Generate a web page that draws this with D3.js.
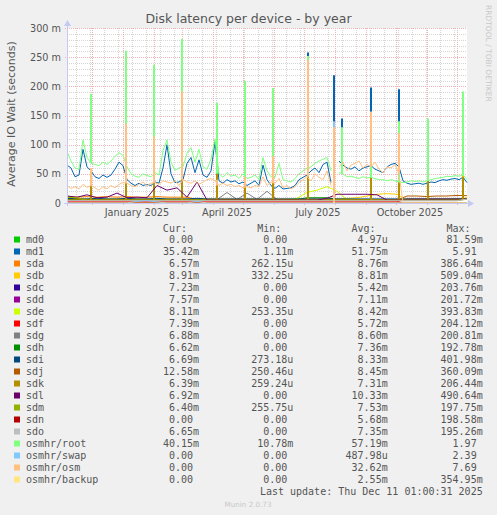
<!DOCTYPE html>
<html>
<head>
<meta charset="utf-8">
<script src="https://cdn.jsdelivr.net/npm/d3@7"></script>
<style>
  html, body { margin: 0; padding: 0; background: #f0f0f0; }
  svg { display: block; }
</style>
</head>
<body>
<div id="chart"></div>
<script>
// 資料 (單位: 毫秒 m)
const startDate = new Date(Date.UTC(2024, 10, 6, 1, 0, 0));
const endDate = new Date(Date.UTC(2025, 11, 11, 1, 0, 0));

// 主要序列每 4 天一點
const mainStep = 4;
const rootVals = [
  88, 72, 60, 58, 108, 78, 68, 66, 64, 70,
  66, 72, 80, 86, 82, 62, 50, 46, 44, 50,
  47, 45, 52, 48, 90, 108, 70, 56, 60, 62,
  85, 95, 70, 92, 62, 58, 75, 110, 50, 44,
  52, 46, 48, 42, 50, 42, 44, 48, 40, 78,
  55, 45, 44, 68, 40, 38, 36, 42, 50, 55,
  60, 62, 68, 72, 75, 78, 55, null, 52, 50,
  45, 46, 44, 42, 45, 43, 44, 42, 40, 40,
  38, 40, 38, 36, 35, 36, 38, 37, 38, 36,
  38, 40, 42, 43, 44, 46, 45, 47, 46, 48,
  40
];
const md1Vals = [
  65, 60, 45, 48, 92, 62, 55, 45, 42, 48,
  44, 48, 58, 70, 64, 40, 34, 30, 34, 30,
  32, 30, 36, 34, 60, 100, 50, 35, 36, 40,
  68, 78, 52, 74, 48, 44, 55, 105, 38, 34,
  40, 36, 38, 33, 36, 30, 34, 38, 30, 65,
  40, 30, 25, 30, 24, 25, 26, 30, 40, 44,
  48, 55, 60, 52, 66, 70, 35, null, 72, 65,
  60, 58, 62, 55, 60, 62, 64, 58, 55, 52,
  62, 66, 68, 62, 38, 34, 32, 33, 34, 32,
  34, 36, 35, 38, 40, 39, 41, 42, 40, 44,
  35
];
const osmVals = [
  30, 25, 28, 24, 32, 27, 30, 26, 22, 28,
  24, 30, 26, 32, 35, 34, 30, 28, 32, 36,
  30, 34, 35, 32, 38, 36, 34, 38, 30, 40,
  36, 34, 38, 32, 36, 40, 42, 38, 30, 34,
  30, 32, 28, 30, 26, 28, 26, 30, 28, 45,
  30, 36, 34, 42, 26, 30, 24, 28, 35, 40,
  45, 38, 50, 44, 40, 55, 30, null, 62, 70,
  55, 65, 68, 72, 60, 66, 62, 70, 58, 52,
  62, 60, 66, 50, 0, 0, 0, 0, 0, 0,
  0, 0, 0, 0, 0, 0, 0, 0, 0, 0,
  0
];

// 其他磁碟每 10 天一點
const lowStep = 10;
const md0Vals = [0,0,0,0,0,0,0,0,0,0,0,0,0,0,0,0,0,0,0,0,0,0,0,0,0,0,0,0,0,0,0,0,0,0,0,0,0,0,0,0,0];
const sdaVals = [11,10,11,10,11,10,11,10,10,11,10,10,10,6,6,6,6,6,6,6,6,6,6,6,6,6,6,6,6,6,6,6,6,6,6,6,6,6,6,6,6.6];
const sdbVals = [7,7,7,7,7,7,7,7,7,7,7,7,7,7,7,7,7,7,7,7,7,7,7,7,7,7,7,7,8,9,12,15,16,15,5,5,5,6,6,7,8.9];
const sdcVals = [5,5,5,5,5,5,5,5,5,5,5,5,5,5,5,5,5,5,5,5,5,5,5,5,5,5,5,5,5,5,5,5,5,5,5,5,5,5,5,5,7.2];
const sddVals = [9,6,6,6,6,6,6,6,6,6,6,6,6,6,6,6,6,6,6,6,6,6,6,6,6,6,6,6,6,6,6,6,6,6,6,6,6,6,6,6,7.6];
const sdeVals = [9,8,6,6,6,6,6,6,6,6,6,6,6,6,6,6,6,6,6,6,6,6,6,8,18,22,28,20,6,6,6,6,6,6,6,6,6,6,6,6,8.1];
const sdfVals = [2,2,2,2,2,2,2,2,2,2,2,2,2,2,2,2,2,2,2,2,2,2,2,2,2,2,2,2,2,2,2,2,2,2,7,7,7,7,7,7,7.4];
const sdgVals = [6,6,6,6,6,6,6,6,6,6,6,6,6,6,6,6,18,6,17,6,20,6,6,6,6,6,6,6,6,6,6,6,6,6,6,6,6,6,6,6,6.9];
const sdhVals = [6,6,6,6,6,6,6,6,6,6,6,6,6,6,6,6,6,6,6,6,6,6,6,6,9,9,9,6,6,6,6,6,6,6,6,6,6,6,6,6,6.6];
const sdiVals = [8,7,7,8,7,7,8,7,7,8,7,7,7,8,7,7,7,7,7,7,7,7,7,7,7,7,7,7,7,7,7,7,7,7,7,7,7,7,7,7,6.7];
const sdjVals = [12,8,5,5,5,5,5,5,5,5,5,5,5,5,5,5,5,5,5,5,5,5,5,5,5,5,5,5,5,5,5,5,5,5,12,12,11,12,12,13,12.6];
const sdkVals = [5.5,5.5,5.5,5.5,5.5,5.5,5.5,5.5,5.5,5.5,5.5,5.5,5.5,5.5,5.5,5.5,5.5,5.5,5.5,5.5,5.5,5.5,5.5,5.5,5.5,5.5,5.5,5.5,5.5,5.5,5.5,5.5,5.5,5.5,5.5,5.5,5.5,5.5,5.5,5.5,6.4];
const sdlVals = [12,10,14,9,10,17,9,10,9,30,22,26,10,36,5,5,5,5,5,5,5,5,5,5,5,5,8,15,15,15,15,14,5,5,5,5,5,5,5,5,6.9];
const sdmVals = [10,9,4.5,4.5,4.5,4.5,4.5,4.5,4.5,4.5,4.5,4.5,4.5,4.5,4.5,4.5,4.5,4.5,4.5,4.5,4.5,4.5,4.5,4.5,4.5,4.5,4.5,4.5,4.5,4.5,4.5,4.5,4.5,4.5,4.5,4.5,4.5,4.5,4.5,4.5,6.4];
const sdnVals = [1,1,1,1,1,1,1,1,1,1,1,1,1,1,1,1,1,1,1,1,1,1,1,1,1,1,1,1,1,1,1,1,1,1,1,1,1,1,1,1,0];
const sdoVals = [4,4,4,4,4,4,4,4,4,4,4,4,4,4,4,4,4,4,4,4,4,4,4,4,4,4,4,4,4,4,4,4,4,4,4,4,4,4,4,4,6.6];
const swapVals = [0,0,0,0,0,0,0,3,4,2,0,0,0,3,0,0,0,0,0,0,0,0,0,0,0,0,0,0,0,0,0,0,0,0,0,0,0,0,0,0,0];
const backupVals = [0,0,0,0,0,0,0,0,0,0,0,0,0,0,0,0,0,0,0,0,0,0,0,0,0,0,0,0,0,0,0,0,0,0,0,0,0,0,0,0,0];

// 每月例行檢查造成的尖峰 (距起點天數)
const spikeDays = [24, 59, 87, 115, 150, 178, 206, 241, 267, 275, 304, 332, 361, 396];
const spikeRoot = [187, 261, 237, 281, 172, 209, 197, 252, 0, 130, 150, 140, 145, 191];
const spikeOsm  = [60, 136, 114, 191, 40, 45, 80, 245, 130, 0, 157, 120, 0, 0];
const spikeMd1  = [0, 0, 0, 0, 120, 0, 0, 258, 219, 145, 198, 195, 0, 0];
const spikeSwap = [0, 0, 0, 0, 0, 0, 0, 0, 140, 0, 0, 0, 0, 0];
const spikeSdk  = [50, 60, 50, 60, 50, 50, 60, 60, 0, 0, 60, 60, 40, 45];
const spikeSdb  = [0, 0, 0, 0, 0, 0, 0, 0, 0, 0, 0, 0, 34, 53];

// 圖例
const names = ['md0','md1','sda','sdb','sdc','sdd','sde','sdf','sdg','sdh','sdi','sdj','sdk','sdl','sdm','sdn','sdo','osmhr/root','osmhr/swap','osmhr/osm','osmhr/backup'];
const colors = ['#00CC00','#0066B3','#FF8000','#FFCC00','#330099','#990099','#CCFF00','#FF0000','#808080','#008F00','#00487D','#B35A00','#B38F00','#6B006B','#8FB300','#B30000','#BEBEBE','#80FF80','#80C9FF','#FFC080','#FFE680'];
const curVals = ['0.00','35.42m','6.57m','8.91m','7.23m','7.57m','8.11m','7.39m','6.88m','6.62m','6.69m','12.58m','6.39m','6.92m','6.40m','0.00','6.65m','40.15m','0.00','0.00','0.00'];
const minVals = ['0.00','1.11m','262.15u','332.25u','0.00','0.00','253.35u','0.00','0.00','0.00','273.18u','250.46u','259.24u','0.00','255.75u','0.00','0.00','10.78m','0.00','0.00','0.00'];
const avgVals = ['4.97u','51.75m','8.76m','8.81m','5.42m','7.11m','8.42m','5.72m','8.60m','7.36m','8.33m','8.45m','7.31m','10.33m','7.53m','5.68m','7.35m','57.19m','487.98u','32.62m','2.55m'];
const maxVals = ['81.59m','5.91','386.64m','509.04m','203.76m','201.72m','393.83m','204.12m','200.81m','192.78m','401.98m','360.09m','206.44m','490.64m','197.75m','198.58m','195.26m','1.97','2.39','7.69','354.95m'];

const seriesVals = [md0Vals, md1Vals, sdaVals, sdbVals, sdcVals, sddVals, sdeVals, sdfVals, sdgVals, sdhVals, sdiVals, sdjVals, sdkVals, sdlVals, sdmVals, sdnVals, sdoVals, rootVals, swapVals, osmVals, backupVals];
const seriesSpikes = { 'md1': spikeMd1, 'sdb': spikeSdb, 'sdk': spikeSdk, 'osmhr/root': spikeRoot, 'osmhr/swap': spikeSwap, 'osmhr/osm': spikeOsm };

function drawDiskLatencyChart(containerId) {
  const width = 497, height = 515;
  const plot = { left: 67, right: 467, top: 28, bottom: 203 };
  const textColor = '#555';
  const sans = "'DejaVu Sans', sans-serif";
  const mono = "'DejaVu Sans Mono', monospace";

  const svg = d3.select(`#${containerId}`)
    .append('svg')
    .attr('width', width)
    .attr('height', height);

  svg.append('rect').attr('width', width).attr('height', height).attr('fill', '#f0f0f0');
  svg.append('rect')
    .attr('x', plot.left).attr('y', plot.top)
    .attr('width', plot.right - plot.left).attr('height', plot.bottom - plot.top)
    .attr('fill', '#fff');

  const x = d3.scaleUtc().domain([startDate, endDate]).range([plot.left, plot.right]);
  const y = d3.scaleLinear().domain([0, 300]).range([plot.bottom, plot.top]);
  const dayX = d => x(d3.utcDay.offset(startDate, d));

  // 格線 (點線)
  const grid = svg.append('g').attr('shape-rendering', 'crispEdges').attr('stroke-dasharray', '1,1');
  const minorY = y.ticks(30).filter(v => v % 50 !== 0);
  const majorY = y.ticks(6).filter(v => v > 0);
  const minorX = d3.utcDay.range(new Date(Date.UTC(2024, 10, 15)), endDate, 14);
  const majorX = d3.utcMonth.range(startDate, endDate);
  const minorColor = '#d6d6d6', majorColor = '#f0b4b4';

  grid.selectAll('.my').data(minorY).enter().append('line')
    .attr('x1', plot.left).attr('x2', plot.right)
    .attr('y1', d => Math.round(y(d)) + 0.5).attr('y2', d => Math.round(y(d)) + 0.5)
    .attr('stroke', minorColor);
  grid.selectAll('.mx').data(minorX).enter().append('line')
    .attr('x1', d => Math.round(x(d)) + 0.5).attr('x2', d => Math.round(x(d)) + 0.5)
    .attr('y1', plot.top).attr('y2', plot.bottom)
    .attr('stroke', minorColor);
  grid.selectAll('.My').data(majorY).enter().append('line')
    .attr('x1', plot.left - 2).attr('x2', plot.right)
    .attr('y1', d => Math.round(y(d)) + 0.5).attr('y2', d => Math.round(y(d)) + 0.5)
    .attr('stroke', majorColor);
  grid.selectAll('.Mx').data(majorX).enter().append('line')
    .attr('x1', d => Math.round(x(d)) + 0.5).attr('x2', d => Math.round(x(d)) + 0.5)
    .attr('y1', plot.top).attr('y2', plot.bottom + 2)
    .attr('stroke', majorColor);

  // 資料線
  svg.append('clipPath').attr('id', 'plot-clip')
    .append('rect')
    .attr('x', plot.left).attr('y', plot.top - 1)
    .attr('width', plot.right - plot.left + 1).attr('height', plot.bottom - plot.top + 1);

  const line = d3.line()
    .defined(d => d.v != null)
    .x(d => dayX(d.day))
    .y(d => y(d.v));

  const layer = svg.append('g').attr('clip-path', 'url(#plot-clip)');

  names.forEach((name, i) => {
    const vals = seriesVals[i];
    const step = vals.length === rootVals.length ? mainStep : lowStep;
    const pts = vals.map((v, k) => ({ day: k * step, v: v }));
    const g = layer.append('g');

    g.append('path')
      .datum(pts)
      .attr('fill', 'none')
      .attr('stroke', colors[i])
      .attr('stroke-width', 1)
      .attr('stroke-linejoin', 'round')
      .attr('d', line);

    // 尖峰以窄柱畫出
    const peaks = seriesSpikes[name];
    if (!peaks) return;
    const spikes = spikeDays
      .map((day, k) => ({ day: day, peak: peaks[k], base: vals[Math.round(day / step)] || 0 }))
      .filter(d => d.peak > 0);

    g.selectAll('line').data(spikes).enter().append('line')
      .attr('x1', d => dayX(d.day)).attr('x2', d => dayX(d.day))
      .attr('y1', d => y(d.base)).attr('y2', d => y(d.peak))
      .attr('stroke', colors[i])
      .attr('stroke-width', 2);
  });

  // 座標軸
  const axisColor = '#c4c8f2';
  const axis = svg.append('g').attr('shape-rendering', 'crispEdges');
  axis.append('line')
    .attr('x1', plot.left - 3).attr('x2', plot.right + 2)
    .attr('y1', plot.bottom + 0.5).attr('y2', plot.bottom + 0.5)
    .attr('stroke', axisColor);
  axis.append('line')
    .attr('x1', plot.left + 0.5).attr('x2', plot.left + 0.5)
    .attr('y1', plot.bottom + 3).attr('y2', plot.top - 4)
    .attr('stroke', axisColor);
  svg.append('path')
    .attr('d', `M${plot.right + 1},${plot.bottom - 3} L${plot.right + 7},${plot.bottom + 0.5} L${plot.right + 1},${plot.bottom + 4} Z`)
    .attr('fill', axisColor);
  svg.append('path')
    .attr('d', `M${plot.left - 3},${plot.top - 2} L${plot.left + 0.5},${plot.top - 8} L${plot.left + 4},${plot.top - 2} Z`)
    .attr('fill', axisColor);

  // Y 軸刻度文字
  svg.append('g').selectAll('text').data(y.ticks(6)).enter().append('text')
    .attr('x', plot.left - 6)
    .attr('y', d => y(d) + 3.5)
    .attr('text-anchor', 'end')
    .attr('font-family', sans).attr('font-size', 9.7)
    .attr('fill', textColor)
    .text(d => d === 0 ? '0' : `${d} m`);

  // X 軸刻度文字 (季度月份置中於 15 日)
  const labelMonths = d3.utcMonth.range(startDate, endDate).filter(d => d.getUTCMonth() % 3 === 0);
  svg.append('g').selectAll('text').data(labelMonths).enter().append('text')
    .attr('x', d => x(d3.utcDay.offset(d, 14)))
    .attr('y', plot.bottom + 13)
    .attr('text-anchor', 'middle')
    .attr('font-family', sans).attr('font-size', 9.7)
    .attr('fill', textColor)
    .text(d => d3.utcFormat('%B %Y')(d));

  // 標題與軸標籤
  svg.append('text')
    .attr('x', 248.5).attr('y', 23)
    .attr('text-anchor', 'middle')
    .attr('font-family', sans).attr('font-size', 12.5)
    .attr('fill', textColor)
    .text('Disk latency per device - by year');

  svg.append('text')
    .attr('transform', 'translate(14.5,114) rotate(-90)')
    .attr('text-anchor', 'middle')
    .attr('font-family', sans).attr('font-size', 11)
    .attr('fill', textColor)
    .text('Average IO Wait (seconds)');

  svg.append('text')
    .attr('transform', 'translate(485.5,5) rotate(90)')
    .attr('text-anchor', 'start')
    .attr('font-family', sans).attr('font-size', 7.5)
    .attr('fill', '#c8c8c8')
    .text('RRDTOOL / TOBI OETIKER');

  // 圖例表格
  const charW = 6.02;
  const rowY0 = 239.5, rowH = 12;
  const colRight = [199, 293.3, 387.7, 482.7];
  const headers = ['Cur:', 'Min:', 'Avg:', 'Max:'];
  const cols = [curVals, minVals, avgVals, maxVals];
  const legend = svg.append('g')
    .attr('font-family', mono).attr('font-size', 10)
    .attr('fill', textColor);

  legend.selectAll('.hdr').data(headers).enter().append('text')
    .attr('x', (d, i) => colRight[i] - 2 * charW)
    .attr('y', rowY0 - rowH + 0.5 + 3.5)
    .attr('text-anchor', 'end')
    .text(d => d);

  const rows = legend.selectAll('.row').data(names).enter().append('g')
    .attr('transform', (d, i) => `translate(0,${rowY0 + i * rowH})`);

  rows.append('rect')
    .attr('x', 14).attr('y', -3)
    .attr('width', 6).attr('height', 6)
    .attr('fill', (d, i) => colors[i]);

  rows.append('text')
    .attr('x', 26).attr('y', 3.5)
    .text(d => d);

  // 無單位的數值留一格給單位字元
  cols.forEach((vals, c) => {
    rows.append('text')
      .attr('x', (d, i) => /[a-z]$/.test(vals[i]) ? colRight[c] : colRight[c] - charW)
      .attr('y', 3.5)
      .attr('text-anchor', 'end')
      .text((d, i) => vals[i]);
  });

  legend.append('text')
    .attr('x', 482.7).attr('y', 491 + 3.5)
    .attr('text-anchor', 'end')
    .text('Last update: Thu Dec 11 01:00:31 2025');

  svg.append('text')
    .attr('x', 248).attr('y', 506.5)
    .attr('text-anchor', 'middle')
    .attr('font-family', sans).attr('font-size', 7.2)
    .attr('fill', '#c8c8c8')
    .text('Munin 2.0.73');
}

drawDiskLatencyChart('chart');
</script>
</body>
</html>
